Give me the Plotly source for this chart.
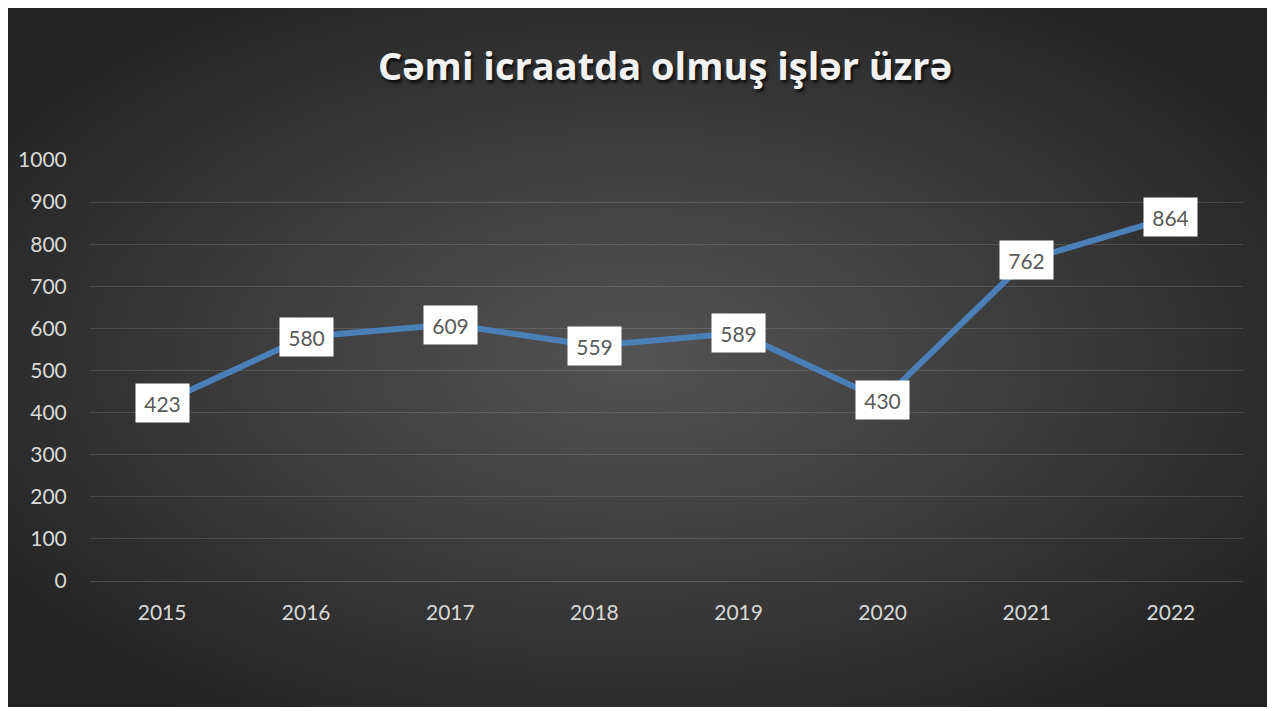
import base64
import plotly.graph_objects as go

years = ["2015", "2016", "2017", "2018", "2019", "2020", "2021", "2022"]
values = [423, 580, 609, 559, 589, 430, 762, 864]
y_ticks = [0, 100, 200, 300, 400, 500, 600, 700, 800, 900, 1000]
title_text = "Cəmi icraatda olmuş işlər üzrə"

# page body adds an 8px offset; figure coordinates = reference - 8
OFF = 8
W, H = 1268, 703
L = 90 - OFF
T = 160 - OFF
R = W - (1243 - OFF)
B = H - (581 - OFF)
pw, ph = W - L - R, H - T - B

svg = """<svg xmlns='http://www.w3.org/2000/svg' width='1261' height='703' viewBox='0 0 1261 703' preserveAspectRatio='none'>
<defs><radialGradient id='g' cx='50%' cy='50%' r='62%' fx='50%' fy='50%'>
<stop offset='0%' stop-color='#535353'/>
<stop offset='50%' stop-color='#3c3c3c'/>
<stop offset='100%' stop-color='#232323'/>
</radialGradient></defs>
<rect width='1261' height='703' fill='url(#g)'/></svg>"""
src = "data:image/svg+xml;base64," + base64.b64encode(svg.encode()).decode()

fig = go.Figure()
fig.add_trace(go.Scatter(
    x=years, y=values, mode="lines",
    line=dict(color="#4a7fb8", width=6),
    showlegend=False,
))

annotations = []
for i, v in enumerate(values):
    annotations.append(dict(
        x=i, y=v, xref="x", yref="y", text=str(v), showarrow=False,
        font=dict(family="Lato, Open Sans, sans-serif", size=21, color="#595959"),
        bgcolor="white", width=41, height=26, borderpad=6,
        xanchor="center", yanchor="middle",
    ))
fig.layout.annotations = annotations

fig.update_layout(
    width=W, height=H,
    margin=dict(l=L, r=R, t=T, b=B, pad=0, autoexpand=False),
    paper_bgcolor="white",
    plot_bgcolor="rgba(0,0,0,0)",
    title=dict(
        text="<b>" + title_text + "</b>",
        x=(665 - OFF) / W, xanchor="center", y=1 - (67 - OFF) / H, yanchor="middle",
        font=dict(family="Open Sans, sans-serif", size=38, color="#f2f2f2",
                  shadow="2px 3px 3px rgba(0,0,0,0.7)"),
    ),
    images=[dict(
        source=src, xref="paper", yref="paper",
        x=(6 - OFF - L) / pw, y=((581 - OFF) - (4 - OFF)) / ph,
        sizex=1261 / pw, sizey=703 / ph,
        xanchor="left", yanchor="top", sizing="stretch", layer="below",
    )],
    xaxis=dict(
        type="category", showgrid=False, zeroline=False, showline=False,
        ticks="outside", ticklen=13, tickcolor="rgba(0,0,0,0)", automargin=False,
        tickfont=dict(family="Lato, Open Sans, sans-serif", size=21, color="#d9d9d9"),
        range=[-0.5, len(years) - 0.5], fixedrange=True,
    ),
    yaxis=dict(
        range=[0, 1000], tickvals=y_ticks, ticktext=[str(t) for t in y_ticks],
        showgrid=True, gridcolor="rgba(255,255,255,0.13)", gridwidth=1,
        zeroline=True, zerolinecolor="rgba(255,255,255,0.16)", zerolinewidth=1,
        showline=False, ticks="outside", ticklen=18, tickcolor="rgba(0,0,0,0)",
        automargin=False,
        tickfont=dict(family="Lato, Open Sans, sans-serif", size=21, color="#d9d9d9"),
        fixedrange=True,
    ),
    showlegend=False,
)
fig.write_html("out.html")
